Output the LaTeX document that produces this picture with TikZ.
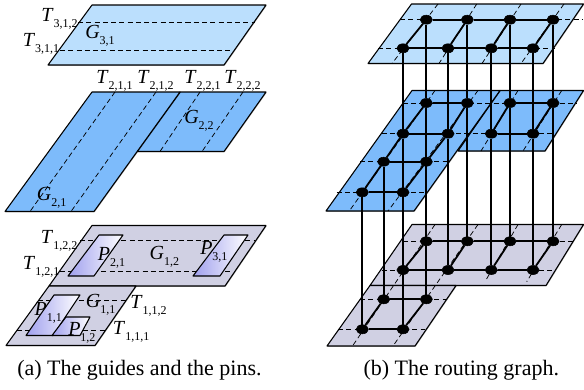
\documentclass[tikz,border=0pt]{standalone}
\usepackage{fontspec}
\setmainfont{Liberation Serif}
\usepackage{xcolor}
\usetikzlibrary{shapes.geometric,shadows}

\definecolor{lightguide}{HTML}{BBDFFD}
\definecolor{midguide}{HTML}{7DBBFB}
\definecolor{lowguide}{HTML}{D0D0E3}
\definecolor{pinblue}{HTML}{A0A0EE}

\newcommand{\lab}[2]{\textit{#1}\raisebox{-4.6pt}{\fontsize{9}{10}\selectfont #2}}

\tikzset{
    guide/.style={draw=black, line width=0.8pt, line join=round,
        drop shadow={shadow xshift=0.5pt, shadow yshift=-0.5pt, fill=black, opacity=0.35}},
    track/.style={dashed, dash pattern=on 3.8pt off 2.4pt, line width=0.55pt},
    pinbox/.style={draw=black, line width=0.8pt, line join=round, left color=pinblue, middle color=pinblue!65, right color=white},
    lbl/.style={inner sep=0pt, anchor=base west, font=\fontsize{15}{17}\selectfont},
    vertex/.style={draw=black, fill=black, ellipse, inner sep=0pt, minimum width=9.2pt, minimum height=6.8pt},
    wire/.style={draw=black, line width=1.35pt},
    subcap/.style={inner sep=0pt, anchor=base west, font=\fontsize{16.5}{18}\selectfont}
}

\begin{document}
\begin{tikzpicture}[x=0.75pt, y=-0.75pt]

    \useasboundingbox (0,0) rectangle (584,389);

    % Guides (a)
    \draw[guide, fill=lightguide] (92,5) -- (266,5) -- (224,65) -- (48,65) -- cycle;
    \draw[guide, fill=midguide] (180,92) -- (266,92) -- (224,151.5) -- (137,151.5) -- cycle;
    \draw[guide, fill=midguide] (92,92) -- (180,92) -- (94,211.5) -- (5,211.5) -- cycle;
    \draw[guide, fill=lowguide] (92,225.5) -- (266,225.5) -- (225,286) -- (49,286) -- cycle;
    \draw[guide, fill=lowguide] (49,286) -- (136,286) -- (95,345.5) -- (6,345.5) -- cycle;

    % Tracks (a)
    \draw[track] (78,22) -- (255,22);
    \draw[track] (60,50.5) -- (232,50.5);
    \draw[track] (115,92) -- (30,211.5);
    \draw[track] (156,92) -- (71,211.5);
    \draw[track] (200,92) -- (160,151.5);
    \draw[track] (243,92) -- (202,151.5);
    \draw[track] (80,240.5) -- (255,240.5);
    \draw[track] (60,271) -- (232,271);
    \draw[track] (38,300) -- (127,300);
    \draw[track] (17,330) -- (107,330);

    % Pins
    \draw[pinbox] (99,235) -- (123,235) -- (94,276) -- (68,276) -- cycle;
    \draw[pinbox] (224,235) -- (248,235) -- (220,276) -- (193,276) -- cycle;
    \draw[pinbox] (54,295) -- (80,295) -- (53,335.5) -- (26,335.5) -- cycle;
    \draw[pinbox] (66,317) -- (90,317) -- (80,335.5) -- (52,335.5) -- cycle;

    % Labels (a)
    \node[lbl] (t312) at (41,21.7) {\lab{T}{3,1,2}};
    \node[lbl] (t311) at (22.5,46.7) {\lab{T}{3,1,1}};
    \node[lbl] (g31) at (85,38.3) {\lab{G}{3,1}};
    \node[lbl] (t211) at (96,83) {\lab{T}{2,1,1}};
    \node[lbl] (t212) at (137,83) {\lab{T}{2,1,2}};
    \node[lbl] (t221) at (184,83) {\lab{T}{2,2,1}};
    \node[lbl] (t222) at (224,83) {\lab{T}{2,2,2}};
    \node[lbl] (g22) at (184,123.3) {\lab{G}{2,2}};
    \node[lbl] (g21) at (36.7,200.5) {\lab{G}{2,1}};
    \node[lbl] (t122) at (40.7,243) {\lab{T}{1,2,2}};
    \node[lbl] (t121) at (22.7,269) {\lab{T}{1,2,1}};
    \node[lbl] (p21) at (97.7,260.7) {\lab{P}{2,1}};
    \node[lbl] (g12) at (149.3,259.3) {\lab{G}{1,2}};
    \node[lbl] (p31) at (200,254.3) {\lab{P}{3,1}};
    \node[lbl] (p11) at (34.3,315) {\lab{P}{1,1}};
    \node[lbl] (g11) at (85.7,307.3) {\lab{G}{1,1}};
    \node[lbl] (p12) at (68,335) {\lab{P}{1,2}};
    \node[lbl] (t112) at (130,308.3) {\lab{T}{1,1,2}};
    \node[lbl] (t111) at (112.7,334) {\lab{T}{1,1,1}};

    % Guides (b)
    \draw[guide, fill=lightguide] (411.5,4) -- (583.5,4) -- (543,63.5) -- (368,63.5) -- cycle;
    \draw[guide, fill=midguide] (500,90.5) -- (583.5,90.5) -- (545,151) -- (458,151) -- cycle;
    \draw[guide, fill=midguide] (412,90.5) -- (500,90.5) -- (414,211) -- (326,211) -- cycle;
    \draw[guide, fill=lowguide] (412,224.5) -- (583.5,224.5) -- (546,285.5) -- (370,285.5) -- cycle;
    \draw[guide, fill=lowguide] (370,285.5) -- (456,285.5) -- (415,346) -- (327,346) -- cycle;

    % Tracks (b)
    \foreach \xa/\ya/\xb/\yb in {400/19.7/583/19.7, 378/48.3/555/48.3,
        438/4/392/63.5, 476.7/4/439/63.5, 521/4/482/63.5, 564/4/521/63.5,
        402.7/103/577/103, 381.7/133.7/555/133.7, 360/161.7/448/161.7, 336.7/192.3/426.7/192.3,
        435/90.5/349.3/211, 478/90.5/388/211, 518/90.5/481/151, 561.7/90.5/523/151,
        403/241.3/575/241.3, 381.7/270/555/270, 360/299.3/446.7/299.3, 338/329.3/425/329.3,
        435/224.5/352.5/346, 478/224.5/393/346, 518/224.5/485/281.7, 561.7/224.5/526.7/281.7}
        \draw[track] (\xa,\ya) -- (\xb,\yb);

    % Vertices: rows a,b on each level, c,d on the lower left guides
    \foreach \lev/\ya/\yb in {3/19.7/48.3, 2/103/133.7, 1/241.3/270} {
        \foreach \col/\xa/\xb in {1/426.3/403, 2/467.3/448, 3/510/491.3, 4/553/533} {
            \node[vertex] (a\lev\col) at (\xa,\ya) {};
            \node[vertex] (b\lev\col) at (\xb,\yb) {};
        }
    }
    \foreach \lev/\yc/\yd in {2/161.7/192.3, 1/299.3/329.3} {
        \node[vertex] (c\lev1) at (383.7,\yc) {};
        \node[vertex] (c\lev2) at (426.3,\yc) {};
        \node[vertex] (d\lev1) at (362.3,\yd) {};
        \node[vertex] (d\lev2) at (403,\yd) {};
    }

    % Wires on the levels
    \foreach \lev in {3,1} {
        \draw[wire] (a\lev1) -- (a\lev2) -- (a\lev3) -- (a\lev4);
        \draw[wire] (b\lev1) -- (b\lev2) -- (b\lev3) -- (b\lev4);
    }
    \draw[wire] (a21) -- (a22);
    \draw[wire] (a23) -- (a24);
    \draw[wire] (b21) -- (b22);
    \draw[wire] (b23) -- (b24);
    \foreach \lev in {3,2,1} {
        \foreach \col in {1,2,3,4}
            \draw[wire] (a\lev\col) -- (b\lev\col);
    }
    \foreach \lev in {2,1} {
        \draw[wire] (c\lev1) -- (c\lev2);
        \draw[wire] (d\lev1) -- (d\lev2);
        \draw[wire] (c\lev1) -- (d\lev1);
        \draw[wire] (c\lev2) -- (d\lev2);
    }
    \draw[wire] (b21) -- (c21);
    \draw[wire] (b22) -- (c22);

    % Wires between the levels
    \foreach \col in {1,2,3,4} {
        \draw[wire] (a3\col) -- (a2\col) -- (a1\col);
        \draw[wire] (b3\col) -- (b2\col) -- (b1\col);
    }
    \draw[wire] (b11) -- (d22) -- (d12);
    \draw[wire] (a21) -- (c22) -- (c12);
    \draw[wire] (c21) -- (c11);
    \draw[wire] (d21) -- (d11);

    % Captions
    \node[subcap] (capa) at (17,375.7) {(a) The guides and the pins.};
    \node[subcap] (capb) at (363.3,375.7) {(b) The routing graph.};

\end{tikzpicture}
\end{document}
